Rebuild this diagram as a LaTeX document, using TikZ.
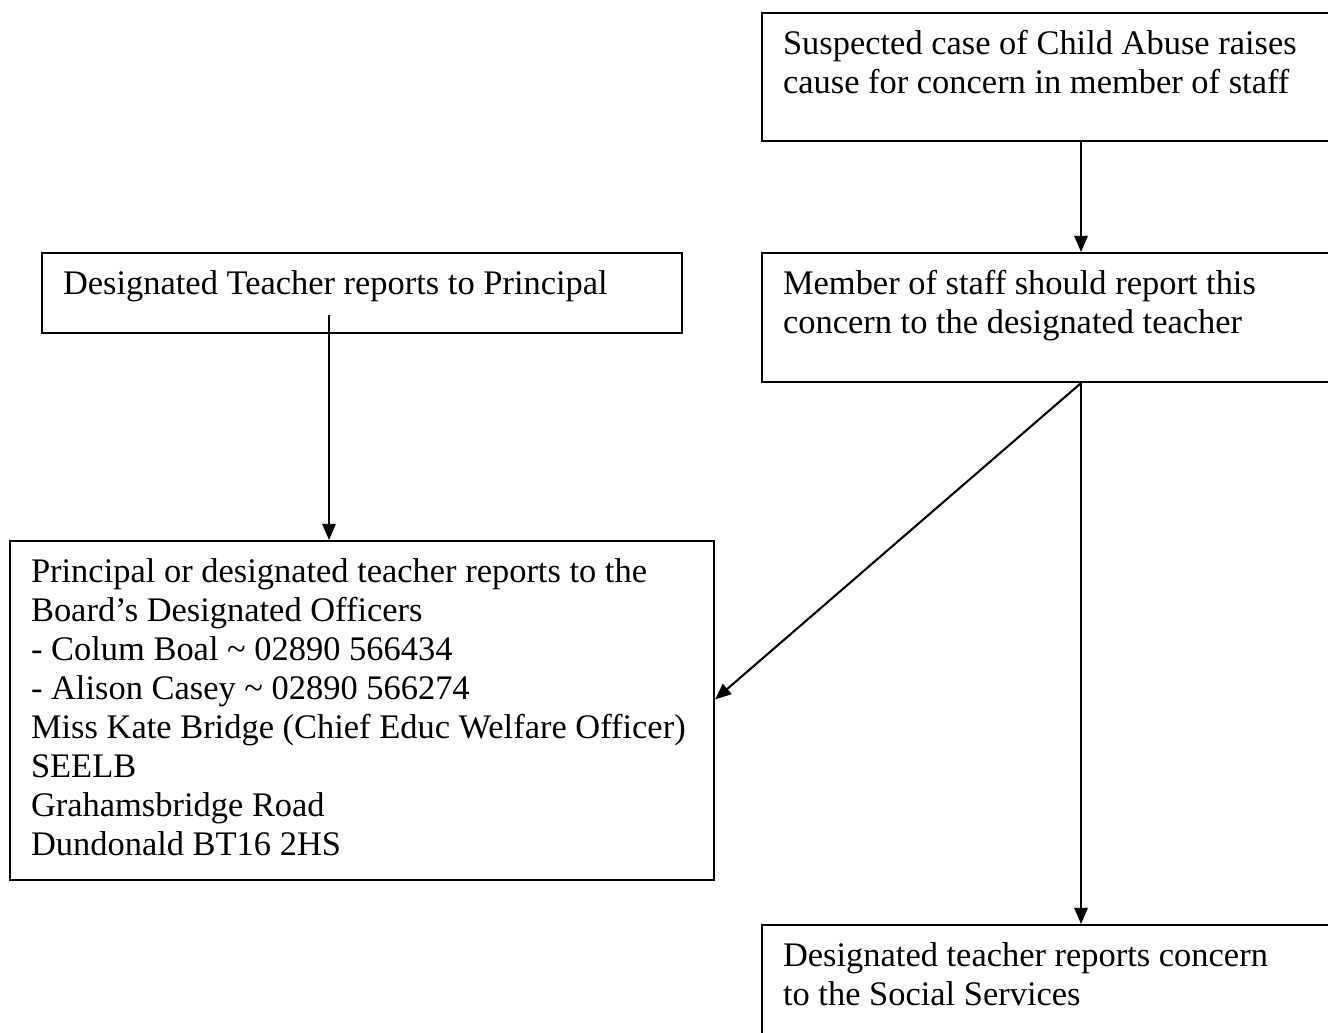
\documentclass[tikz,border=0pt]{standalone}
\usepackage{fontspec}
\setmainfont{Liberation Serif}
\usepackage{tikz}
\usetikzlibrary{arrows.meta}

\begin{document}
\begin{tikzpicture}[
    x=0.36pt, y=-0.36pt,
    flowbox/.style={draw, line width=0.75pt, anchor=north west, align=flush left,
      inner xsep=7.56pt, inner ysep=0pt, text height=14.76pt,
      font=\fontsize{12.4}{14.04}\selectfont},
    arrow/.style={-{Triangle[length=5.8pt,width=4.8pt]}, line width=0.75pt}
  ]
    \useasboundingbox (0,0) rectangle (1328,1032);

    % boxes, placed by their top left corner (pixel grid of the page)
    \node[flowbox, text width=215pt, text depth=31.32pt] (suspect) at (761,12)
      {Suspected case of Child Abuse raises\\cause for concern in member of staff};
    \node[flowbox, text width=215pt, text depth=31.68pt] (staff) at (761,252)
      {Member of staff should report this\\concern to the designated teacher};
    \node[flowbox, text width=215.28pt, text depth=14.04pt] (tochief) at (41,252)
      {Designated Teacher reports to Principal};
    \node[flowbox, text width=238.32pt, text depth=107.28pt] (board) at (9,540)
      {Principal or designated teacher reports to the\\
       Board’s Designated Officers\\
       - Colum Boal \textasciitilde{} 02890 566434\\
       - Alison Casey \textasciitilde{} 02890 566274\\
       Miss Kate Bridge (Chief Educ Welfare Officer)\\
       SEELB\\
       Grahamsbridge Road\\
       Dundonald BT16 2HS};
    \node[flowbox, text width=215pt, text depth=28.8pt] (social) at (761,924)
      {Designated teacher reports concern\\to the Social Services};

    \coordinate (spine) at (1081,0);
    \coordinate (leftspine) at (329,315);

    \draw[arrow] (suspect.south -| spine) -- (staff.north -| spine);
    \draw[arrow] (leftspine) -- (board.north -| leftspine);
    \draw[arrow] (staff.south -| spine) -- ([yshift=4pt]board.east);
    \draw[arrow] (staff.south -| spine) -- (social.north -| spine);
\end{tikzpicture}
\end{document}
